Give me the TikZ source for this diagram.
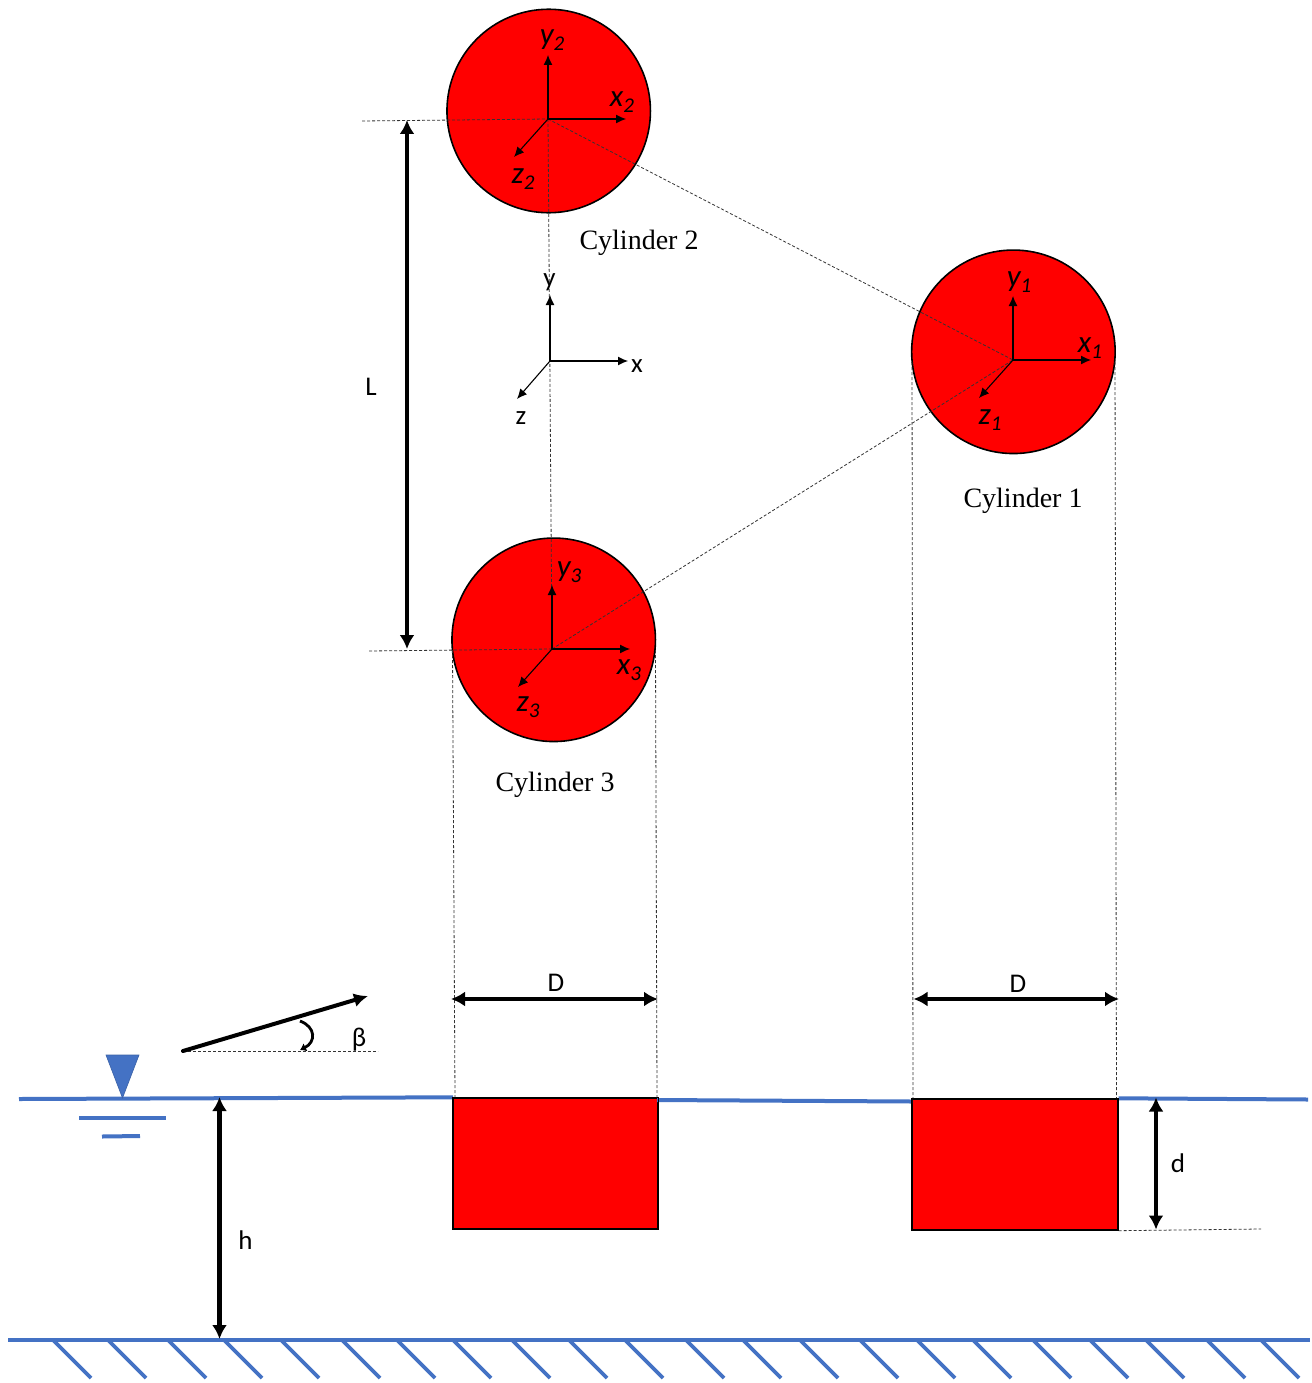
\documentclass[tikz,border=0pt]{standalone}
\usepackage{fontspec}
\setmainfont{Liberation Serif}
\newfontfamily\lab{Carlito}
\usetikzlibrary{arrows.meta}
\definecolor{wat}{HTML}{4472C4}
\tikzset{
 x=1pt,y=-1pt,
 cyl/.style={circle,draw=black,fill=red,line width=1.6pt,minimum size=203.5pt,inner sep=0pt},
 blk/.style={draw=black,fill=red,line width=1.4pt,minimum width=204pt,minimum height=131pt,inner sep=0pt},
 guide/.style={draw=black!80,line width=.8pt,dash pattern=on 3pt off 2pt},
 axisline/.style={draw=black,line width=1.1pt,-{Latex[length=10pt,width=9pt]}},
 dimline/.style={draw=black,line width=4.4pt,{Latex[length=14pt,width=15pt]}-{Latex[length=14pt,width=15pt]}},
 water/.style={draw=wat,line width=4pt},
 hatchline/.style={draw=wat,line width=3.6pt},
 captiontext/.style={font=\fontsize{28}{30}\selectfont,inner sep=0pt},
 symtext/.style={font=\lab\fontsize{27}{29}\selectfont,inner sep=0pt},
 axl/.style={font=\lab\itshape\fontsize{31}{33}\selectfont,inner sep=0pt,xshift=1pt,yshift=-2pt},
}
\newcommand{\axlab}[2]{#1\raisebox{-.2em}{\fontsize{21}{22}\selectfont #2}}
\begin{document}
\begin{tikzpicture}
\useasboundingbox (0,0) rectangle (1311,1383);
\fill[white] (0,0) rectangle (1311,1383);
% circles
\node[cyl] (c2) at (548.7,111) {};
\node[cyl] (c1) at (1013.4,351.8) {};
\node[cyl] (c3) at (553.7,639.8) {};
% centres
\coordinate (o2) at (548,119);
\coordinate (o1) at (1013,360);
\coordinate (o3) at (552,649);
\coordinate (o) at (550,361);
% blocks
\node[blk,minimum width=204pt] (b3) at (555.7,1163.5) {};
\node[blk,minimum width=206pt] (b1) at (1015,1164.5) {};
% guides
\coordinate (gl2) at (362,121);
\coordinate (gl3) at (369,651);
\draw[guide] (gl2) -- (o2);
\draw[guide] (gl3) -- (o3);
\draw[guide] (o2) -- (o1);
\draw[guide] (o3) -- (o1);
\draw[guide] (o2) -- (o3);
\coordinate (t3l) at (452.5,650);
\coordinate (t3r) at (655.5,650);
\coordinate (t1l) at (912,362);
\coordinate (t1r) at (1115,362);
\coordinate (f3l) at (455,1098);
\coordinate (f3r) at (657,1098);
\coordinate (f1l) at (913,1099);
\coordinate (f1r) at (1116.5,1099);
\draw[guide] (t3l) -- (f3l);
\draw[guide] (t3r) -- (f3r);
\draw[guide] (t1l) -- (f1l);
\draw[guide] (t1r) -- (f1r);
\coordinate (de) at (1261,1229);
\draw[guide] (b1.south east) -- (de);
% local axes
\foreach \c/\n in {o1/1,o2/2,o3/3}{
 \draw[axisline] (\c) -- ++(0,-64);
 \draw[axisline] (\c) -- ++(78,0);
 \draw[axisline] (\c) -- ++(-34,38);
}
\node[axl] (ly2) at (551,38) {\axlab{y}{2}};
\node[axl] (lx2) at (621,100) {\axlab{x}{2}};
\node[axl] (lz2) at (522,177) {\axlab{z}{2}};
\node[axl] (ly1) at (1018,280) {\axlab{y}{1}};
\node[axl] (lx1) at (1089,346) {\axlab{x}{1}};
\node[axl] (lz1) at (989,418) {\axlab{z}{1}};
\node[axl] (ly3) at (568,570) {\axlab{y}{3}};
\node[axl] (lx3) at (628,668) {\axlab{x}{3}};
\node[axl] (lz3) at (527,705) {\axlab{z}{3}};
% global axes
\draw[axisline] (o) -- ++(0,-66);
\draw[axisline] (o) -- ++(78,0);
\draw[axisline] (o) -- ++(-33,38);
\node[symtext] (gy) at (549.5,282) {y};
\node[symtext] (gx) at (637,366) {x};
\node[symtext] (gz) at (521,418) {z};
% captions
\node[captiontext] (n2) at (639,243) {Cylinder 2};
\node[captiontext] (n1) at (1023,501) {Cylinder 1};
\node[captiontext] (n3) at (555,785) {Cylinder 3};
% dimensions
\coordinate (la) at (407,120);
\coordinate (lb) at (407,649);
\draw[dimline] (la) -- (lb);
\node[symtext] (ll) at (371,387) {L};
\coordinate (d3a) at (451,999);
\coordinate (d3b) at (658,999);
\draw[dimline] (d3a) -- (d3b);
\node[symtext] (ld3) at (556,983) {D};
\coordinate (d1a) at (913.5,999);
\coordinate (d1b) at (1119,999);
\draw[dimline] (d1a) -- (d1b);
\node[symtext] (ld1) at (1018,984) {D};
% water
\coordinate (wl) at (19,1099);
\coordinate (wr) at (1308,1099.5);
\coordinate (wm1) at (657,1100);
\coordinate (wm2) at (912,1101.5);
\draw[water] (wl) -- (b3.north west);
\draw[water] (wm1) -- (wm2);
\draw[water] (b1.north east) -- (wr);
\coordinate (m1a) at (79,1118); \coordinate (m1b) at (166,1118);
\coordinate (m2a) at (102,1136.5); \coordinate (m2b) at (140,1136);
\draw[water] (m1a) -- (m1b);
\draw[water] (m2a) -- (m2b);
\coordinate (ta) at (106,1055); \coordinate (tb) at (139,1055); \coordinate (tc) at (122.5,1098);
\filldraw[fill=wat,draw=wat!85!black,line width=.6pt] (ta) -- (tb) -- (tc) -- cycle;
% redraw block edges over water ends
\draw[black,line width=1.4pt] (b3.north west) rectangle (b3.south east);
\draw[black,line width=1.4pt] (b1.north west) rectangle (b1.south east);
% bed
\coordinate (bl) at (8,1340);
\coordinate (br) at (1310,1340);
\draw[water,line width=4.4pt] (bl) -- (br);
\foreach \t in {53,108,168,224,281,342,397,453,512,569,625,686,743,800,860,917,973,1033,1090,1146,1207,1261}{
 \draw[hatchline] (\t,1340) -- ++(38,38);
}
% d
\coordinate (dda) at (1156,1097.5);
\coordinate (ddb) at (1156,1229.5);
\draw[dimline] (dda) -- (ddb);
\node[symtext] (ld) at (1178,1163) {d};
% h
\coordinate (ha) at (219.5,1097);
\coordinate (hb) at (219.5,1339);
\draw[dimline] (ha) -- (hb);
\node[symtext] (lh) at (245.5,1240) {h};
% wave direction
\coordinate (wa) at (183,1051);
\coordinate (wb) at (368,996);
\coordinate (wc) at (378,1051);
\draw[guide] (wa) -- (wc);
\draw[draw=black,line width=4pt,line cap=round,-{Latex[length=14pt,width=14pt]}] (wa) -- (wb);
\coordinate (aa) at (300,1021);
\coordinate (ab) at (300,1050);
\draw[draw=black,line width=2.8pt,-{Latex[length=6pt,width=9pt]}] (aa) .. controls (316,1027) and (316,1042) .. (ab);
\node[symtext] (lb2) at (359,1040) {β};
\end{tikzpicture}
\end{document}
